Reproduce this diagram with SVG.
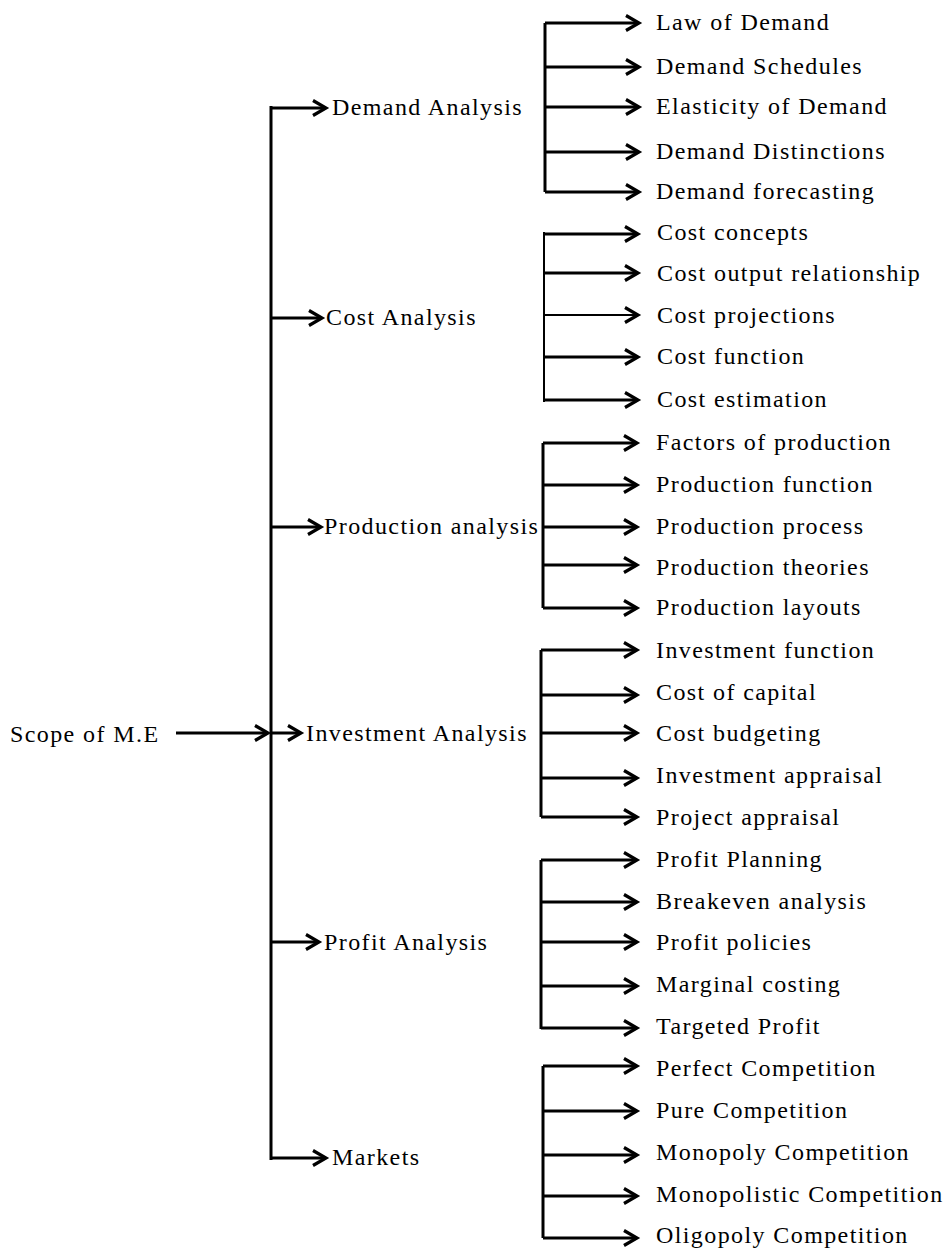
<svg xmlns="http://www.w3.org/2000/svg" width="950" height="1250" viewBox="0 0 950 1250">
<defs>
<style>
.t{font-family:"Liberation Serif","Times New Roman",serif;font-size:24px;letter-spacing:1.4px;fill:#000}
.l{stroke:#000;stroke-width:3;fill:none}
.m{stroke:#000;stroke-width:2;fill:none}
</style>
<marker id="a" markerWidth="20" markerHeight="20" refX="14" refY="10" orient="auto" markerUnits="userSpaceOnUse" overflow="visible">
<path d="M1,2.5 L14,10 L1,17.5" fill="none" stroke="#000" stroke-width="3.2" stroke-linejoin="miter"/>
</marker>
</defs>
<rect width="950" height="1250" fill="#fff"/>
<g id="connectors">
<line class="l" x1="176" y1="733" x2="268" y2="733" marker-end="url(#a)"/>
<line class="l" x1="271" y1="106" x2="271" y2="1160"/>
<line class="l" x1="271" y1="108" x2="326" y2="108" marker-end="url(#a)"/>
<line class="l" x1="271" y1="318" x2="322" y2="318" marker-end="url(#a)"/>
<line class="l" x1="271" y1="527" x2="321" y2="527" marker-end="url(#a)"/>
<line class="l" x1="271" y1="733" x2="301" y2="733" marker-end="url(#a)"/>
<line class="l" x1="271" y1="942" x2="319" y2="942" marker-end="url(#a)"/>
<line class="l" x1="271" y1="1158" x2="326" y2="1158" marker-end="url(#a)"/>
<path class="l" d="M545,23 V192"/>
<line class="l" x1="545" y1="23" x2="639" y2="23" marker-end="url(#a)"/>
<line class="l" x1="545" y1="67" x2="639" y2="67" marker-end="url(#a)"/>
<line class="l" x1="545" y1="107" x2="639" y2="107" marker-end="url(#a)"/>
<line class="l" x1="545" y1="152" x2="639" y2="152" marker-end="url(#a)"/>
<line class="l" x1="545" y1="192" x2="639" y2="192" marker-end="url(#a)"/>
<path class="m" d="M544,232 V402"/>
<line class="l" x1="544" y1="234" x2="638" y2="234" marker-end="url(#a)"/>
<line class="l" x1="544" y1="273" x2="638" y2="273" marker-end="url(#a)"/>
<line class="m" x1="544" y1="315" x2="638" y2="315" marker-end="url(#a)"/>
<line class="l" x1="544" y1="357" x2="638" y2="357" marker-end="url(#a)"/>
<line class="l" x1="544" y1="400" x2="638" y2="400" marker-end="url(#a)"/>
<path class="l" d="M543,443 V608"/>
<line class="l" x1="543" y1="443" x2="637" y2="443" marker-end="url(#a)"/>
<line class="l" x1="543" y1="485" x2="637" y2="485" marker-end="url(#a)"/>
<line class="l" x1="543" y1="527" x2="637" y2="527" marker-end="url(#a)"/>
<line class="l" x1="543" y1="565" x2="637" y2="565" marker-end="url(#a)"/>
<line class="l" x1="543" y1="608" x2="637" y2="608" marker-end="url(#a)"/>
<path class="l" d="M541,650 V817"/>
<line class="l" x1="541" y1="650" x2="637" y2="650" marker-end="url(#a)"/>
<line class="l" x1="541" y1="695" x2="637" y2="695" marker-end="url(#a)"/>
<line class="l" x1="541" y1="733" x2="637" y2="733" marker-end="url(#a)"/>
<line class="l" x1="541" y1="778" x2="637" y2="778" marker-end="url(#a)"/>
<line class="l" x1="541" y1="817" x2="637" y2="817" marker-end="url(#a)"/>
<path class="l" d="M541,860 V1029"/>
<line class="l" x1="541" y1="860" x2="637" y2="860" marker-end="url(#a)"/>
<line class="l" x1="541" y1="902" x2="637" y2="902" marker-end="url(#a)"/>
<line class="l" x1="541" y1="942" x2="637" y2="942" marker-end="url(#a)"/>
<line class="l" x1="541" y1="986" x2="637" y2="986" marker-end="url(#a)"/>
<line class="l" x1="541" y1="1028" x2="637" y2="1028" marker-end="url(#a)"/>
<path class="l" d="M543,1066 V1238"/>
<line class="l" x1="543" y1="1066" x2="637" y2="1066" marker-end="url(#a)"/>
<line class="l" x1="543" y1="1111" x2="637" y2="1111" marker-end="url(#a)"/>
<line class="l" x1="543" y1="1155" x2="637" y2="1155" marker-end="url(#a)"/>
<line class="l" x1="543" y1="1196" x2="637" y2="1196" marker-end="url(#a)"/>
<line class="l" x1="543" y1="1238" x2="637" y2="1238" marker-end="url(#a)"/>
</g>
<g id="root"><text class="t" x="10" y="742">Scope of M.E</text></g>
<g id="demand"><text class="t" x="332" y="115">Demand Analysis</text></g>
<g id="cost"><text class="t" x="326" y="325">Cost Analysis</text></g>
<g id="production"><text class="t" x="324" y="534">Production analysis</text></g>
<g id="investment"><text class="t" x="306" y="741">Investment Analysis</text></g>
<g id="profit"><text class="t" x="324" y="950">Profit Analysis</text></g>
<g id="markets"><text class="t" x="332" y="1165">Markets</text></g>
<g id="demand-items">
<text class="t" x="656" y="30">Law of Demand</text>
<text class="t" x="656" y="74">Demand Schedules</text>
<text class="t" x="656" y="114">Elasticity of Demand</text>
<text class="t" x="656" y="159">Demand Distinctions</text>
<text class="t" x="656" y="199">Demand forecasting</text>
</g>
<g id="cost-items">
<text class="t" x="657" y="240">Cost concepts</text>
<text class="t" x="657" y="281">Cost output relationship</text>
<text class="t" x="657" y="323">Cost projections</text>
<text class="t" x="657" y="364">Cost function</text>
<text class="t" x="657" y="407">Cost estimation</text>
</g>
<g id="production-items">
<text class="t" x="656" y="450">Factors of production</text>
<text class="t" x="656" y="492">Production function</text>
<text class="t" x="656" y="534">Production process</text>
<text class="t" x="656" y="575">Production theories</text>
<text class="t" x="656" y="615">Production layouts</text>
</g>
<g id="investment-items">
<text class="t" x="656" y="658">Investment function</text>
<text class="t" x="656" y="700">Cost of capital</text>
<text class="t" x="656" y="741">Cost budgeting</text>
<text class="t" x="656" y="783">Investment appraisal</text>
<text class="t" x="656" y="825">Project appraisal</text>
</g>
<g id="profit-items">
<text class="t" x="656" y="867">Profit Planning</text>
<text class="t" x="656" y="909">Breakeven analysis</text>
<text class="t" x="656" y="950">Profit policies</text>
<text class="t" x="656" y="992">Marginal costing</text>
<text class="t" x="656" y="1034">Targeted Profit</text>
</g>
<g id="markets-items">
<text class="t" x="656" y="1076">Perfect Competition</text>
<text class="t" x="656" y="1118">Pure Competition</text>
<text class="t" x="656" y="1160">Monopoly Competition</text>
<text class="t" x="656" y="1202">Monopolistic Competition</text>
<text class="t" x="656" y="1243">Oligopoly Competition</text>
</g>
</svg>
